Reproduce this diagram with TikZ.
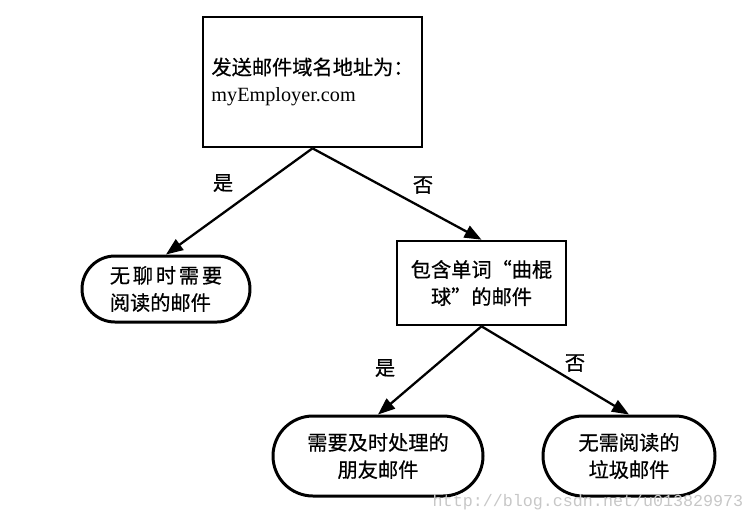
\documentclass[tikz,border=0pt]{standalone}
\usepackage{fontspec}
\setmainfont{Liberation Serif}
\newfontfamily\cjk[FakeBold=0.6]{Noto Sans CJK SC}
\newfontfamily\wmfont{Liberation Mono}
\usepackage{tikz}
\usetikzlibrary{arrows.meta,shapes.misc}

\begin{document}
\begin{tikzpicture}[
  test/.style={draw, rectangle, line width=1.5pt, inner sep=0pt, font=\fontsize{11.5}{15.5}\selectfont},
  leaf/.style={draw, rounded rectangle, line width=1.7pt, inner sep=0pt, align=center, font=\cjk\fontsize{11.5}{15.5}\selectfont},
  answer/.style={font=\cjk\fontsize{11.5}{14}\selectfont},
  branch/.style={draw, -{Triangle[length=3.4mm,width=2.6mm]}, line width=1.3pt}
]
\useasboundingbox (0,0) rectangle (15.1,-10.44);

% Nodes
\node[test, align=left, minimum width=4.38cm, minimum height=2.6cm] (root) at (6.25,-1.64)
  {{\cjk 发送邮件域名地址为：}\\myEmployer.com};
\node[leaf, align=left, minimum width=3.36cm, minimum height=1.32cm] (bored) at (3.32,-5.78)
  {无\hspace{1.6pt}聊\hspace{1.6pt}时\hspace{1.6pt}需\hspace{1.6pt}要\\阅读的邮件};
\node[test, align=center, font=\cjk\fontsize{11.5}{15.5}\selectfont,
  minimum width=3.38cm, minimum height=1.68cm] (hockey) at (9.63,-5.66)
  {包含单词“曲棍\\球”的邮件};
\node[leaf, minimum width=4.2cm, minimum height=1.6cm] (friend) at (7.56,-9.12)
  {需要及时处理的\\朋友邮件};
\node[leaf, minimum width=3.44cm, minimum height=1.6cm] (spam) at (12.58,-9.12)
  {无需阅读的\\垃圾邮件};

% Labels
\node[answer] (yes1) at (4.46,-3.66) {是};
\node[answer] (no1) at (8.46,-3.70) {否};
\node[answer] (yes2) at (7.70,-7.36) {是};
\node[answer] (no2) at (11.50,-7.26) {否};

\node[text=black!22, font=\wmfont\fontsize{9.5}{10}\selectfont] (mark) at (11.76,-10.04)
  {http://blog.csdn.net/u013829973};

% Arrows
\draw[branch] (root.south) -- (bored.north);
\draw[branch] (root.south) -- (hockey.north);
\draw[branch] (hockey.south) -- (friend.north);
\draw[branch] (hockey.south) -- (spam.north);

\end{tikzpicture}
\end{document}
